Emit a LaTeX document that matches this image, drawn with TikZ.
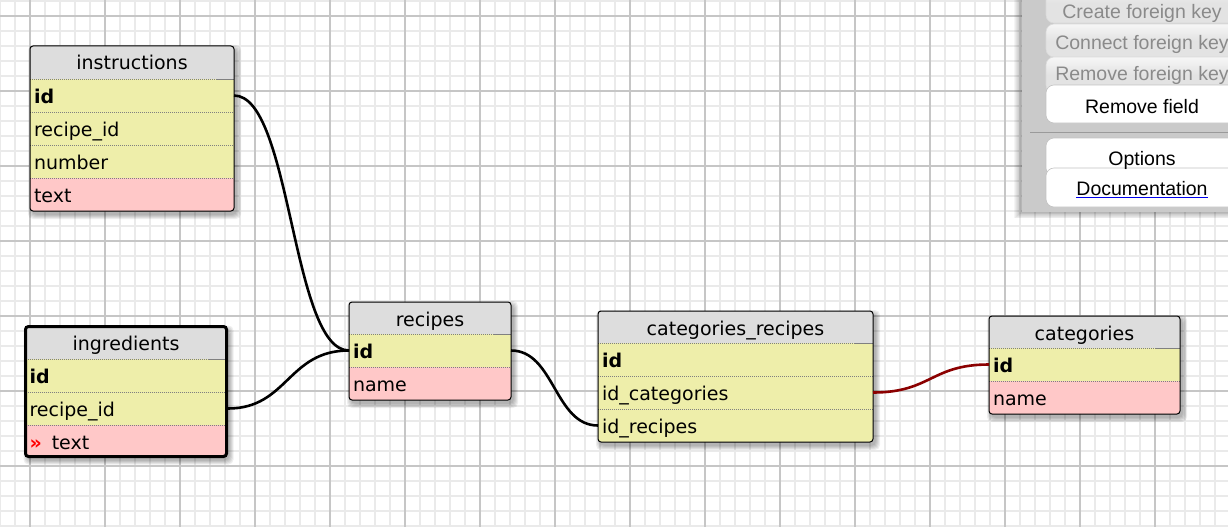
\documentclass[tikz,border=0pt]{standalone}
\usepackage{fontspec}
\setmainfont{DejaVu Sans}
\newfontfamily\panelfont{Liberation Sans}
\usetikzlibrary{calc}
\definecolor{gridminor}{HTML}{EAEAEA}
\definecolor{gridmajor}{HTML}{C6C6C6}
\definecolor{hdrgray}{HTML}{DDDDDD}
\definecolor{numcol}{HTML}{EEEEAA}
\definecolor{strcol}{HTML}{FFC8C8}
\definecolor{sepgray}{HTML}{808080}
\definecolor{fkred}{HTML}{8B0000}
\definecolor{panelgray}{HTML}{CACACA}
\definecolor{btnhi}{HTML}{F6F6F6}
\definecolor{btnlo}{HTML}{E3E3E3}
\definecolor{btnedge}{HTML}{C2C2C2}
\definecolor{btntext}{HTML}{8A8A8A}
\definecolor{linkblue}{HTML}{0000EE}
\definecolor{panelsep}{HTML}{9A9A9A}

% shadow under a table: x1 y1 x2 y2
\newcommand\softshadow[4]{%
  \foreach \r in {0,1,2,3,4}{%
    \fill[black,opacity=0.065,rounded corners=5pt] (#1+2-\r,#2+3-\r) rectangle (#3+3+\r,#4+4+\r);}%
}
% header: name x y w h text
\newcommand\erhead[6]{%
  \node[rowbox,fill=hdrgray,minimum width=#4pt,minimum height=#5pt] (#1) at (#2,#3) {};
  \node[hdrlbl] (#1-t) at ($(#1.north)+(0,24)$) {#6};
}
% row: name x ytop w colour text
\newcommand\errow[6]{%
  \node[rowbox,fill=#5,minimum width=#4pt] (#1) at (#2,#3) {};
  \node[lbl] (#1-t) at ($(#1.north west)+(4,24)$) {#6};
  \draw[rowsep] (#1.north west) -- (#1.north east);
}

\begin{document}
\begin{tikzpicture}[x=1pt,y=-1pt,
  font=\fontsize{19}{23}\selectfont,
  rowbox/.style={rectangle,inner sep=0pt,outer sep=0pt,anchor=north west,minimum height=33pt},
  lbl/.style={anchor=base west,inner sep=0pt,outer sep=0pt},
  hdrlbl/.style={anchor=base,inner sep=0pt,outer sep=0pt},
  rowsep/.style={draw=sepgray,line width=0.8pt,dash pattern=on 1pt off 1pt},
  hdrend/.style={draw=sepgray,line width=1pt},
  tblframe/.style={rectangle,draw=black,line width=1pt,rounded corners=3pt,anchor=north west,inner sep=0pt,outer sep=0pt,fill=none},
  rel/.style={line width=2.6pt,black},
  fkrel/.style={line width=2.6pt,fkred},
  btn/.style={rectangle,rounded corners=8pt,anchor=north west,inner sep=0pt,outer sep=0pt,minimum width=200pt},
  disbtn/.style={draw=btnedge!60!white,line width=0.6pt,top color=btnhi,bottom color=btnlo,middle color=btnlo},
  enbtn/.style={fill=white,draw=btnedge,line width=0.6pt},
  plbl/.style={anchor=base,inner sep=0pt,outer sep=0pt,font=\panelfont\fontsize{19.5}{23}\selectfont},
]
\useasboundingbox (0,0) rectangle (1228,527);
\clip (0,0) rectangle (1228,527);
\fill[white] (0,0) rectangle (1228,527);
% grid
\foreach \x in {0,15,...,1230} \draw[gridminor,line width=1.5pt] (\x,0) -- (\x,527);
\foreach \y in {1,16,...,527} \draw[gridminor,line width=1.5pt] (0,\y) -- (1228,\y);
\foreach \x in {30,105,...,1230} \draw[gridmajor,line width=1.5pt] (\x,0) -- (\x,527);
\foreach \y in {16,91,...,527} \draw[gridmajor,line width=1.5pt] (0,\y) -- (1228,\y);

% ---------- instructions
\softshadow{30}{46}{234}{211}
\begin{scope}
\clip[rounded corners=3pt] (30,46) rectangle (234,211);
\erhead{ins-h}{30}{46}{204}{33}{instructions}
\errow{ins-id}{30}{79}{204}{numcol}{\textbf{id}}
\errow{ins-rid}{30}{112}{204}{numcol}{recipe\_id}
\errow{ins-num}{30}{145}{204}{numcol}{number}
\errow{ins-txt}{30}{178}{204}{strcol}{text}
\end{scope}
\draw[hdrend] ($(ins-h.south east)+(-18,0)$) -- (ins-h.south east);
\node[tblframe,minimum width=204pt,minimum height=165pt] (ins) at (30,46) {};

% ---------- ingredients (selected)
\softshadow{25.5}{326.5}{226.5}{456.5}
\begin{scope}
\clip[rounded corners=3pt] (25.5,326.5) rectangle (226.5,456.5);
\erhead{ing-h}{25.5}{326.5}{201}{32.5}{ingredients}
\errow{ing-id}{25.5}{359}{201}{numcol}{\textbf{id}}
\errow{ing-rid}{25.5}{392}{201}{numcol}{recipe\_id}
\errow{ing-txt}{25.5}{425}{201}{strcol}{{\color{red}\textbf{»}}\hspace{10pt}text}
\end{scope}
\draw[hdrend] ($(ing-h.south east)+(-18,0)$) -- (ing-h.south east);
\node[tblframe,line width=3pt,minimum width=201pt,minimum height=130pt] (ing) at (25.5,326.5) {};

% ---------- recipes
\softshadow{349}{302}{511}{400}
\begin{scope}
\clip[rounded corners=3pt] (349,302) rectangle (511,400);
\erhead{rec-h}{349}{302}{162}{32}{recipes}
\errow{rec-id}{349}{334}{162}{numcol}{\textbf{id}}
\errow{rec-name}{349}{367}{162}{strcol}{name}
\end{scope}
\draw[hdrend] ($(rec-h.south east)+(-18,0)$) -- (rec-h.south east);
\node[tblframe,minimum width=162pt,minimum height=98pt] (rec) at (349,302) {};

% ---------- categories_recipes
\softshadow{598}{311}{873}{442}
\begin{scope}
\clip[rounded corners=3pt] (598,311) rectangle (873,442);
\erhead{cr-h}{598}{311}{275}{32}{categories\_recipes}
\errow{cr-id}{598}{343}{275}{numcol}{\textbf{id}}
\errow{cr-idc}{598}{376}{275}{numcol}{id\_categories}
\errow{cr-idr}{598}{409}{275}{numcol}{id\_recipes}
\end{scope}
\draw[hdrend] ($(cr-h.south east)+(-18,0)$) -- (cr-h.south east);
\node[tblframe,minimum width=275pt,minimum height=131pt] (cr) at (598,311) {};

% ---------- categories
\softshadow{989}{316}{1180}{414}
\begin{scope}
\clip[rounded corners=3pt] (989,316) rectangle (1180,414);
\erhead{cat-h}{989}{316}{191}{32}{categories}
\errow{cat-id}{989}{348}{191}{numcol}{\textbf{id}}
\errow{cat-name}{989}{381}{191}{strcol}{name}
\end{scope}
\draw[hdrend] ($(cat-h.south east)+(-25,0)$) -- (cat-h.south east);
\node[tblframe,minimum width=191pt,minimum height=98pt] (cat) at (989,316) {};

% ---------- relations
\coordinate (m1) at ($(ins-id.east)!0.5!(rec-id.west)$);
\draw[rel] (ins-id.east) .. controls (m1 |- ins-id.east) and (m1 |- rec-id.west) .. (rec-id.west);
\coordinate (m2) at ($(ing-rid.east)!0.5!(rec-id.west)$);
\draw[rel] ([xshift=1.5pt]ing-rid.east) .. controls (m2 |- ing-rid.east) and (m2 |- rec-id.west) .. (rec-id.west);
\coordinate (m3) at ($(rec-id.east)!0.5!(cr-idr.west)$);
\draw[rel] (rec-id.east) .. controls (m3 |- rec-id.east) and (m3 |- cr-idr.west) .. (cr-idr.west);
\coordinate (m4) at ($(cr-idc.east)!0.5!(cat-id.west)$);
\draw[fkrel] (cr-idc.east) .. controls (m4 |- cr-idc.east) and (m4 |- cat-id.west) .. (cat-id.west);

% ---------- side panel
\foreach \r in {1,...,8}{\fill[black,opacity=0.04] (1022-\r,-20) rectangle (1240,212+0.8*\r);}
\node[rectangle,fill=panelgray,anchor=north west,inner sep=0pt,minimum width=220pt,minimum height=232pt] (panel) at (1022,-20) {};
\node[btn,disbtn,minimum height=40pt] (b-create) at (1046,-17) {};
\node[btn,disbtn,minimum height=33pt] (b-connect) at (1046,24) {};
\node[btn,disbtn,minimum height=36pt] (b-rfk) at (1046,57) {};
\node[btn,enbtn,minimum height=38pt] (b-rfield) at (1046,85) {};
\draw[panelsep,line width=1pt] (1030,132) -- (1240,132);
\node[btn,enbtn,minimum height=38pt] (b-opt) at (1046,138) {};
\node[btn,enbtn,minimum height=39pt] (b-doc) at (1046,168) {};
\node[plbl,text=btntext] (t-create) at (1142,19) {Create foreign key};
\node[plbl,text=btntext] (t-connect) at (1142,50) {Connect foreign key};
\node[plbl,text=btntext] (t-rfk) at (1142,81) {Remove foreign key};
\node[plbl] (t-rfield) at (1142,113) {Remove field};
\node[plbl] (t-opt) at (1142,165) {Options};
\node[plbl] (t-doc) at (1142,195) {Documentation};
\draw[linkblue,line width=1pt] ($(t-doc.base west)+(0,2.6)$) -- ($(t-doc.base east)+(0,2.6)$);
\end{tikzpicture}
\end{document}
